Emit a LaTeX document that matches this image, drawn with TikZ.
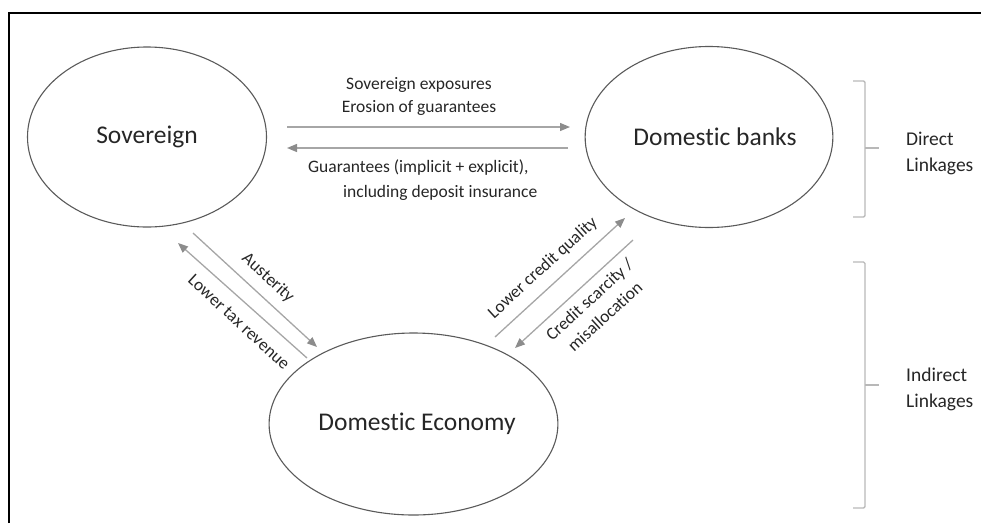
\documentclass[tikz,border=0pt]{standalone}
\usepackage{fontspec}
\setmainfont{Carlito}[Ligatures=NoCommon]
\usetikzlibrary{arrows.meta,shapes.geometric}

\definecolor{ink}{HTML}{262626}
\definecolor{ring}{HTML}{5A5A5A}
\definecolor{flow}{HTML}{A6A6A6}
\definecolor{flowhead}{HTML}{8C8C8C}
\definecolor{bracegray}{HTML}{B8B8B8}

\begin{document}
\begin{tikzpicture}[x=1pt,y=-1pt,
  sector/.style={ellipse, draw=ring, line width=1.1pt, inner sep=0pt,
    text=ink, font=\fontsize{25.5}{30}\selectfont},
  flowarrow/.style={draw=flow, line width=1.3pt,
    -{Triangle[length=10pt,width=8pt,color=flowhead]}},
  flowtext/.style={text=ink, inner sep=0pt, align=center,
    font=\fontsize{17.5}{23}\selectfont},
  bracket/.style={draw=bracegray, line width=1.4pt, rounded corners=1.5pt},
  groupname/.style={text=ink, inner sep=0pt, align=left, anchor=west,
    font=\fontsize{19.5}{26}\selectfont}
]
\useasboundingbox (0,0) rectangle (981,523);

% outer frame (open to the right and bottom)
\draw[black, line width=1.8pt] (9,523) -- (9,13) -- (981,13);

% the three sectors
\node[sector, minimum width=239pt, minimum height=180pt] (sov) at (147,137) {Sovereign};
\node[sector, minimum width=236pt, minimum height=181pt] (bank) at (709,137) {\hspace*{12pt}Domestic banks};
\node[sector, minimum width=237pt, minimum height=182pt] (econ) at (413.5,424) {\hspace*{7pt}Domestic Economy};

% arrow end points
\coordinate (se1) at (287,127);
\coordinate (se2) at (570,127);
\coordinate (gu1) at (568,148);
\coordinate (gu2) at (287,148);
\coordinate (au1) at (193,233);
\coordinate (au2) at (317,347);
\coordinate (tx1) at (307,358);
\coordinate (tx2) at (178,243);
\coordinate (lc1) at (495,337);
\coordinate (lc2) at (625,218);
\coordinate (cs1) at (633,240);
\coordinate (cs2) at (515,348);

% sovereign <-> banks
\draw[flowarrow] (se1) -- (se2);
\draw[flowarrow] (gu1) -- (gu2);
\node[flowtext] (expo) at (419,96) {Sovereign exposures\\Erosion of guarantees};
\node[flowtext, align=left, anchor=west, font=\fontsize{17.5}{25}\selectfont] (guar) at (308,180)
  {Guarantees (implicit + explicit),\\\hspace*{35pt}including deposit insurance};

% sovereign <-> economy
\draw[flowarrow] (au1) -- (au2);
\draw[flowarrow] (tx1) -- (tx2);
\node[flowtext, rotate=-42.6] (aust) at (268,278) {Austerity};
\node[flowtext, rotate=-42.6] (tax) at (239,322) {Lower tax revenue};

% economy <-> banks
\draw[flowarrow] (lc1) -- (lc2);
\draw[flowarrow] (cs1) -- (cs2);
\node[flowtext, rotate=42.5] (qual) at (543,268) {Lower credit quality};
\node[flowtext, rotate=42.5] (scar) at (597,308) {Credit scarcity /\\misallocation};

% brackets grouping the linkages
\draw[bracket] (853,81) -- (865,81) -- (865,217) -- (853,217);
\draw[bracket] (865,148) -- (879,148);
\node[groupname] (direct) at (906,153) {Direct\\Linkages};

\draw[bracket] (853,262) -- (865,262) -- (865,508) -- (853,508);
\draw[bracket] (865,385) -- (879,385);
\node[groupname] (indirect) at (906,389) {Indirect\\Linkages};
\end{tikzpicture}
\end{document}
